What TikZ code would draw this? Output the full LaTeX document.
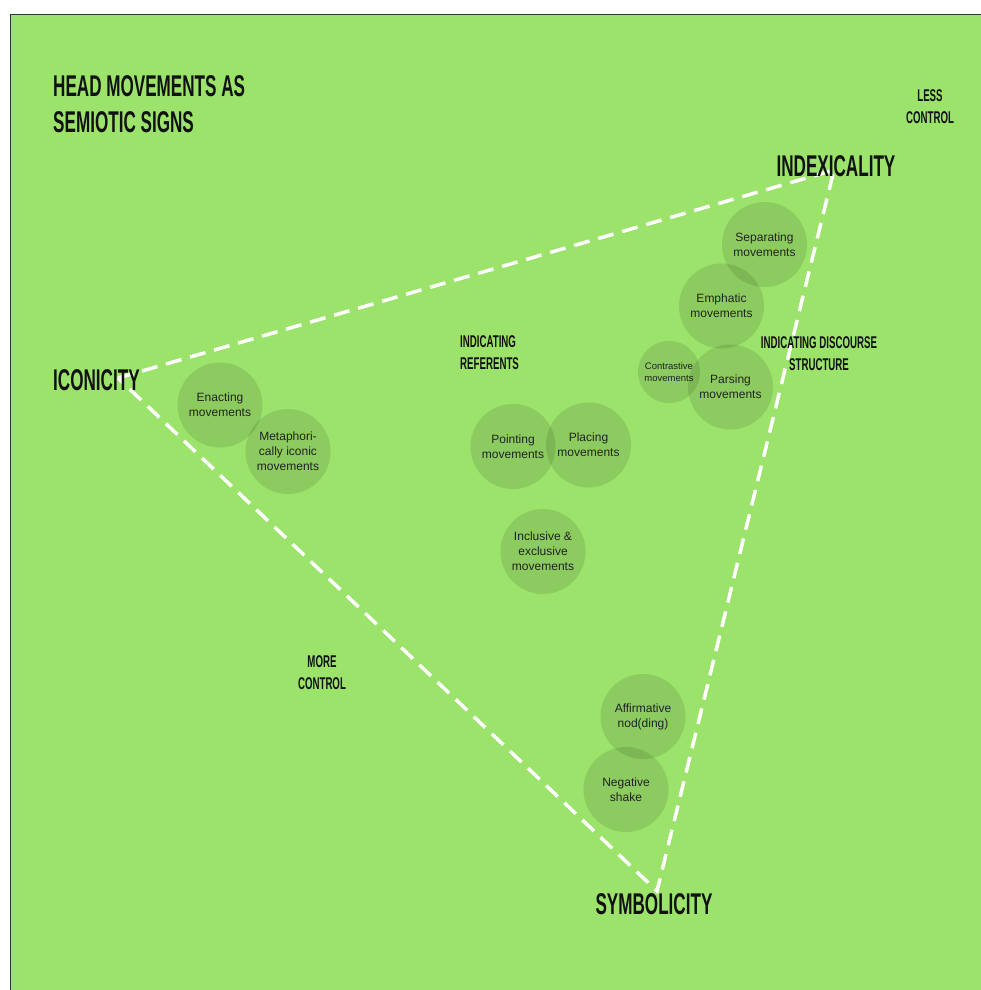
\documentclass[tikz,border=0pt]{standalone}
\usepackage{fontspec}
\setmainfont{Liberation Sans}
\newfontfamily\headfont[FakeStretch=0.57]{Liberation Sans}
\usetikzlibrary{positioning}
\definecolor{bg}{HTML}{9BE36A}
\definecolor{ink}{HTML}{111111}
\definecolor{txt}{HTML}{222222}

\begin{document}
\begin{tikzpicture}[x=1pt,y=-1pt,
	bubble/.style={circle,fill=black,fill opacity=0.1,text opacity=1,text=txt,minimum size=85pt,inner sep=0pt,align=center,font=\fontsize{12}{15}\selectfont},
	small bubble/.style={bubble,minimum size=62pt,font=\fontsize{9.5}{12}\selectfont},
	heading/.style={inner sep=0pt,text=ink,align=center,font=\headfont\bfseries\fontsize{17}{22}\selectfont},
	big heading/.style={heading,font=\headfont\bfseries\fontsize{30}{36}\selectfont},
	dashline/.style={white,line width=3.5pt,dash pattern=on 16pt off 9pt}]
	 \useasboundingbox (0,0) rectangle (981,990);
	 \fill[white] (0,0) rectangle (981,990);
	 \fill[bg] (10,15) rectangle (981,990);
	 \draw[black!80,line width=1pt] (10,990) -- (10,15) -- (981,15);

	 % corners of the triangle
	 \coordinate (ico) at (118,378);
	 \coordinate (idx) at (834,170);
	 \coordinate (sym) at (657,891);
	 \draw[dashline] (ico) -- (idx) -- (sym) -- cycle;

	 \node at (220,405) [bubble] (enact) {Enacting\\movements};
	 \node at (288,451.5) [bubble] (metaph) {Metaphori-\\cally iconic\\movements};
	 \node at (513,446.5) [bubble] (point) {Pointing\\movements};
	 \node at (588.5,445) [bubble] (place) {Placing\\movements};
	 \node at (543,551.5) [bubble] (incl) {Inclusive \&\\exclusive\\movements};
	 \node at (764.5,244.5) [bubble] (separ) {Separating\\movements};
	 \node at (721.5,306) [bubble] (emph) {Emphatic\\movements};
	 \node at (669,372) [small bubble] (contr) {Contrastive\\movements};
	 \node at (730.5,387) [bubble] (pars) {Parsing\\movements};
	 \node at (643,716.5) [bubble] (affirm) {Affirmative\\nod(ding)};
	 \node at (626,789.5) [bubble] (negat) {Negative\\shake};

	 \node at (53,75) [big heading,anchor=north west,align=left] (title) {HEAD MOVEMENTS AS\\SEMIOTIC SIGNS};
	 \node at (836,155) [big heading,anchor=north] (idxlabel) {INDEXICALITY};
	 \node at (53,369) [big heading,anchor=north west] (icolabel) {ICONICITY};
	 \node at (654,893) [big heading,anchor=north] (symlabel) {SYMBOLICITY};

	 \node at (930,89) [heading,anchor=north] (less) {LESS\\CONTROL};
	 \node at (322,655) [heading,anchor=north] (more) {MORE\\CONTROL};
	 \node at (460,335) [heading,anchor=north west,align=left] (refer) {INDICATING\\REFERENTS};
	 \node at (819,336) [heading,anchor=north] (disc) {INDICATING DISCOURSE\\STRUCTURE};
\end{tikzpicture}
\end{document}
